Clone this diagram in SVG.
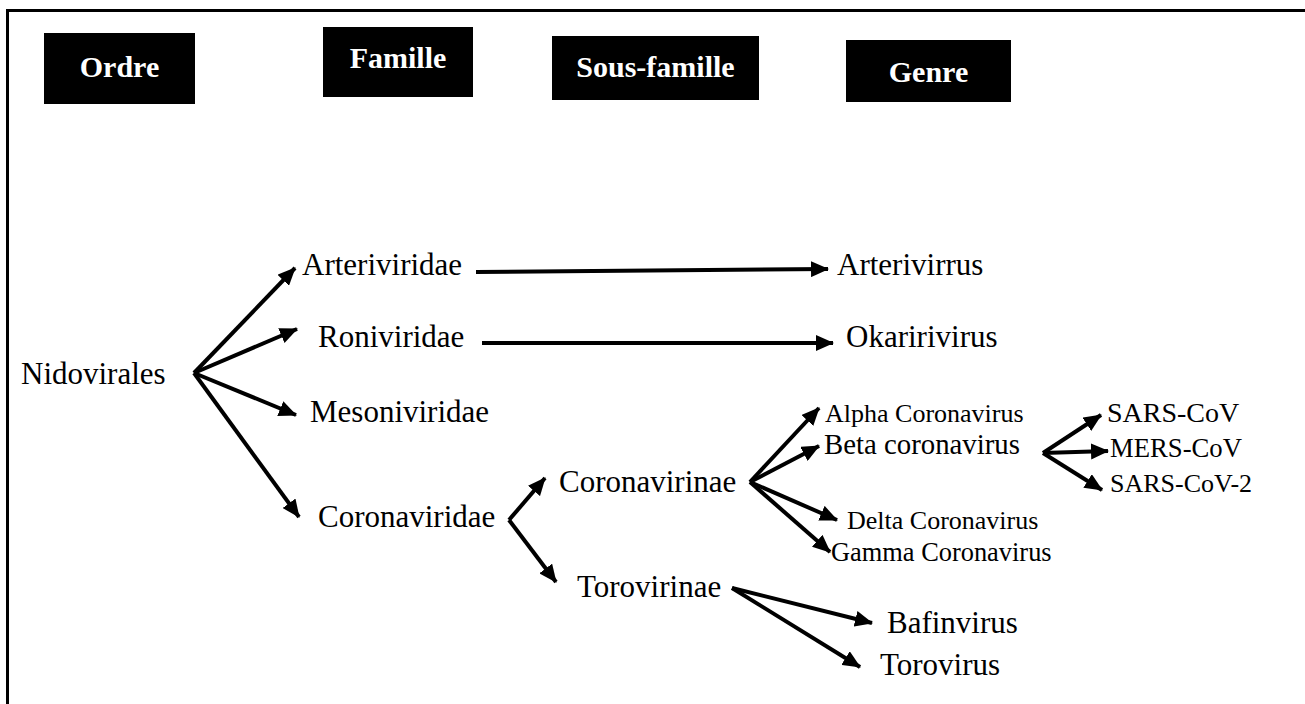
<svg xmlns="http://www.w3.org/2000/svg" width="1305" height="704" viewBox="0 0 1305 704">
<style>
.hdr{fill:#000}
.ht{font-family:"Liberation Serif","Times New Roman",serif;font-weight:bold;font-size:30px;fill:#fff;text-anchor:middle}
.lb{font-family:"Liberation Serif","Times New Roman",serif;font-size:31px;fill:#000}
.sm{font-family:"Liberation Serif","Times New Roman",serif;font-size:26px;fill:#000}
.ar{stroke:#000;stroke-width:4;fill:none;marker-end:url(#ah)}
</style>
<defs>
<marker id="ah" markerUnits="userSpaceOnUse" markerWidth="18" markerHeight="16" refX="17" refY="8" orient="auto">
<path d="M0,0 L18,8 L0,16 z" fill="#000"/>
</marker>
</defs>
<rect x="0" y="0" width="1305" height="704" fill="#fff"/>
<rect id="frame" x="7.5" y="10.5" width="1400" height="800" fill="none" stroke="#000" stroke-width="3"/>
<g id="h-ordre"><rect class="hdr" x="44" y="33" width="151" height="71"/><text class="ht" x="119.5" y="77">Ordre</text></g>
<g id="h-famille"><rect class="hdr" x="323" y="27" width="150" height="70"/><text class="ht" x="398" y="68">Famille</text></g>
<g id="h-sousfamille"><rect class="hdr" x="552" y="36" width="207" height="64"/><text class="ht" x="655.5" y="77">Sous-famille</text></g>
<g id="h-genre"><rect class="hdr" x="846" y="40" width="165" height="62"/><text class="ht" x="928.5" y="82">Genre</text></g>

<g id="n-nidovirales"><text class="lb" x="21" y="384">Nidovirales</text></g>
<g id="n-arteriviridae"><text class="lb" x="302" y="275">Arteriviridae</text></g>
<g id="n-roniviridae"><text class="lb" x="318" y="347">Roniviridae</text></g>
<g id="n-mesoniviridae"><text class="lb" x="310" y="422">Mesoniviridae</text></g>
<g id="n-coronaviridae"><text class="lb" x="318" y="527">Coronaviridae</text></g>
<g id="n-arterivirrus"><text class="lb" x="837" y="275">Arterivirrus</text></g>
<g id="n-okaririvirus"><text class="lb" x="846" y="347">Okaririvirus</text></g>
<g id="n-coronavirinae"><text class="lb" x="559" y="492">Coronavirinae</text></g>
<g id="n-torovirinae"><text class="lb" x="577" y="597">Torovirinae</text></g>
<g id="n-alpha"><text class="sm" x="825" y="422">Alpha Coronavirus</text></g>
<g id="n-beta"><text class="sm" x="824" y="454" style="font-size:28.8px">Beta coronavirus</text></g>
<g id="n-delta"><text class="sm" x="847" y="529">Delta Coronavirus</text></g>
<g id="n-gamma"><text class="sm" x="831" y="561" style="font-size:26.4px">Gamma Coronavirus</text></g>
<g id="n-sarscov"><text class="sm" x="1107" y="422" style="font-size:28px">SARS-CoV</text></g>
<g id="n-merscov"><text class="sm" x="1110" y="457" style="font-size:26.7px">MERS-CoV</text></g>
<g id="n-sarscov2"><text class="sm" x="1110" y="492">SARS-CoV-2</text></g>
<g id="n-bafinvirus"><text class="lb" x="887" y="633">Bafinvirus</text></g>
<g id="n-torovirus"><text class="lb" x="880" y="675">Torovirus</text></g>

<g id="connectors">
<line class="ar" x1="194" y1="373" x2="295" y2="268"/>
<line class="ar" x1="194" y1="373" x2="297" y2="329"/>
<line class="ar" x1="194" y1="373" x2="296" y2="415"/>
<line class="ar" x1="194" y1="373" x2="299" y2="517"/>
<line class="ar" x1="476" y1="272" x2="828" y2="269"/>
<line class="ar" x1="482" y1="343" x2="833" y2="343"/>
<line class="ar" x1="509" y1="520" x2="545" y2="478"/>
<line class="ar" x1="509" y1="520" x2="556" y2="582"/>
<line class="ar" x1="750" y1="482" x2="819" y2="408"/>
<line class="ar" x1="750" y1="482" x2="819" y2="446"/>
<line class="ar" x1="750" y1="482" x2="837" y2="520"/>
<line class="ar" x1="750" y1="482" x2="830" y2="552"/>
<line class="ar" x1="1043" y1="453" x2="1101" y2="415"/>
<line class="ar" x1="1043" y1="453" x2="1108" y2="451"/>
<line class="ar" x1="1043" y1="453" x2="1102" y2="490"/>
<line class="ar" x1="732" y1="588" x2="872" y2="623"/>
<line class="ar" x1="732" y1="588" x2="860" y2="667"/>
</g>
</svg>
